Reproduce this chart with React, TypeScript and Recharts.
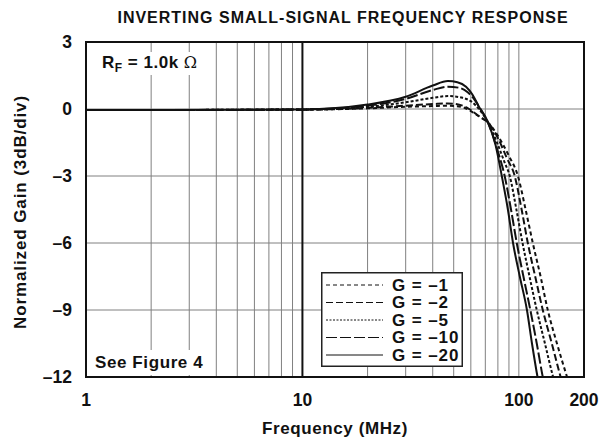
import React from 'react';
import { LineChart, Line, XAxis, YAxis, ReferenceLine, Legend, Label } from 'recharts';

// Frequency (MHz) and normalized gain (dB) for each gain setting
const freqG1 = [1, 10, 20, 30, 40, 47, 55, 60, 66, 72, 80, 90, 99, 108, 116, 126, 136, 150, 167, 180];
const gainG1 = [-0.05, -0.03, 0.03, 0.1, 0.13, 0.15, 0.08, -0.1, -0.35, -0.6, -1.2, -2.1, -3, -4.6, -6, -7.5, -9, -10.5, -12, -13];

const freqG2 = [1, 10, 20, 30, 40, 47, 55, 60, 66, 72, 80, 88, 95.7, 103, 110, 119, 129, 142, 156, 170];
const gainG2 = [-0.05, -0.03, 0.05, 0.15, 0.22, 0.25, 0.15, -0.05, -0.35, -0.6, -1.3, -2.2, -3, -4.5, -6, -7.5, -9, -10.5, -12, -13.2];

const freqG5 = [1, 10, 20, 30, 40, 47, 55, 60, 66, 72, 80, 86, 90.8, 97, 104, 112, 121, 132, 144, 155];
const gainG5 = [-0.05, -0.02, 0.1, 0.3, 0.5, 0.58, 0.5, 0.35, -0.05, -0.6, -1.6, -2.4, -3, -4.4, -6, -7.5, -9, -10.5, -12, -13];

const freqG10 = [1, 10, 20, 30, 40, 47, 53, 58, 62, 66, 72, 80, 86, 92, 97.8, 105, 113, 121, 129, 136];
const gainG10 = [-0.05, -0.02, 0.15, 0.45, 0.85, 1.0, 0.95, 0.75, 0.45, 0.05, -0.6, -1.9, -3, -4.5, -6, -7.5, -9, -10.5, -12, -13];

const freqG20 = [1, 10, 20, 30, 40, 47, 52, 57, 61, 65, 72, 78, 83.4, 89, 94, 101, 109, 115, 122, 128];
const gainG20 = [-0.05, -0.02, 0.2, 0.55, 1.05, 1.25, 1.2, 1.0, 0.65, 0.15, -0.6, -1.6, -3, -4.5, -6, -7.5, -9, -10.5, -12, -13];

const seriesNames = ['G = –1', 'G = –2', 'G = –5', 'G = –10', 'G = –20'];

const xTicks = [1, 10, 100, 200];
const yTicks = [-12, -9, -6, -3, 0, 3];
const gridFreqs = [2, 3, 4, 5, 6, 7, 8, 9, 20, 30, 40, 50, 60, 70, 80, 90, 100];
const gridGains = [-9, -6, -3, 0];

const toPoints = (f: number[], g: number[]) => f.map((x, i) => ({ f: x, g: g[i] }));

const FONT = "'Liberation Sans', Arial, Helvetica, sans-serif";
const curveDashes = ['4 3', '7 3', '3 2', '11 3', undefined];
const legendDashes = ['4 3', '7 3', '2 1.5', '11 3', undefined];

const series = [
  { name: seriesNames[0], data: toPoints(freqG1, gainG1), dash: curveDashes[0], ldash: legendDashes[0] },
  { name: seriesNames[1], data: toPoints(freqG2, gainG2), dash: curveDashes[1], ldash: legendDashes[1] },
  { name: seriesNames[2], data: toPoints(freqG5, gainG5), dash: curveDashes[2], ldash: legendDashes[2] },
  { name: seriesNames[3], data: toPoints(freqG10, gainG10), dash: curveDashes[3], ldash: legendDashes[3] },
  { name: seriesNames[4], data: toPoints(freqG20, gainG20), dash: curveDashes[4], ldash: legendDashes[4] },
];

const fmt = (v: number) => String(v).replace('-', '–');

const renderLegend = () => (
  <svg width={142} height={95} style={{ display: 'block' }}>
    <rect x={0.75} y={0.75} width={140.5} height={93.5} fill="#fff" stroke="#222" strokeWidth={1.5} />
    {series.map((s, i) => {
      const cy = 13 + i * 17.5;
      return (
        <g key={s.name}>
          <line x1={5} x2={62} y1={cy} y2={cy} stroke="#111" strokeWidth={1} strokeDasharray={s.ldash} />
          <text x={71} y={cy} dominantBaseline="central" fontFamily={FONT} fontWeight={700} fontSize={17} letterSpacing={0.9} fill="#111">
            {s.name}
          </text>
        </g>
      );
    })}
  </svg>
);

export default function App() {
  return (
    <div style={{ position: 'absolute', left: 0, top: 0, width: 600, height: 440, background: '#fff', fontFamily: FONT }}>
      <LineChart width={600} height={440} margin={{ top: 42, right: 16, left: 0, bottom: 0 }}>
        <XAxis
          dataKey="f"
          type="number"
          scale="log"
          domain={[1, 200]}
          ticks={xTicks}
          allowDataOverflow
          height={63}
          tickLine={false}
          axisLine={false}
          tickSize={6}
          tickMargin={11}
          tick={{ fontSize: 17.5, fontWeight: 700, fill: '#111', fontFamily: FONT }}
          interval={0}
        >
          <Label
            content={() => (
              <text x={335} y={428} textAnchor="middle" dominantBaseline="central" fontFamily={FONT} fontWeight={700} fontSize={17} letterSpacing={0.6} fill="#111">
                Frequency (MHz)
              </text>
            )}
          />
        </XAxis>
        <YAxis
          type="number"
          domain={[-12, 3]}
          ticks={yTicks}
          allowDataOverflow
          width={86}
          tickLine={false}
          axisLine={false}
          tickSize={6}
          tickMargin={8}
          tickFormatter={fmt}
          tick={{ fontSize: 17.5, fontWeight: 700, fill: '#111', fontFamily: FONT }}
          interval={0}
        >
          <Label
            content={() => (
              <text x={20} y={212} transform="rotate(-90 20 212)" textAnchor="middle" dominantBaseline="central" fontFamily={FONT} fontWeight={700} fontSize={17} letterSpacing={0.9} fill="#111">
                Normalized Gain (3dB/div)
              </text>
            )}
          />
        </YAxis>
        {gridFreqs.map((v) => (
          <ReferenceLine key={'vx' + v} x={v} stroke="#808080" strokeWidth={1} />
        ))}
        {gridGains.map((v) => (
          <ReferenceLine key={'hy' + v} y={v} stroke="#808080" strokeWidth={1} />
        ))}
        <ReferenceLine x={10} stroke="#111" strokeWidth={2} />
        {series.map((s) => (
          <Line
            key={s.name}
            name={s.name}
            data={s.data}
            dataKey="g"
            type="monotone"
            stroke="#111"
            strokeWidth={2}
            strokeDasharray={s.dash}
            dot={false}
            isAnimationActive={false}
          />
        ))}
        <Legend
          layout="vertical"
          align="center"
          verticalAlign="middle"
          content={renderLegend}
          wrapperStyle={{ left: 321, top: 272, width: 142, height: 95 }}
        />
      </LineChart>
      {/* title */}
      <div style={{ position: 'absolute', left: 90, width: 506, top: 8, textAlign: 'center', fontSize: 16, letterSpacing: 1, fontWeight: 700, color: '#111', lineHeight: '20px', whiteSpace: 'nowrap' }}>
        INVERTING SMALL-SIGNAL FREQUENCY RESPONSE
      </div>
      {/* R_F annotation */}
      <div style={{ position: 'absolute', left: 98, top: 52, height: 23, padding: '0 4px', background: '#fff', fontSize: 17, letterSpacing: 0.5, fontWeight: 700, color: '#111', lineHeight: '21px', whiteSpace: 'nowrap' }}>
        R<sub style={{ fontSize: 12, verticalAlign: '-4px' }}>F</sub> = 1.0k <span style={{ fontWeight: 400, fontFamily: "'DejaVu Serif', serif", fontSize: 16 }}>Ω</span>
      </div>
      {/* See Figure 4 */}
      <div style={{ position: 'absolute', left: 90, top: 350, width: 122, height: 25, background: '#fff', fontSize: 17, letterSpacing: 0.6, fontWeight: 700, color: '#111', lineHeight: '25px', whiteSpace: 'nowrap', paddingLeft: 5, boxSizing: 'border-box' }}>
        See Figure 4
      </div>
      {/* plot frame */}
      <div style={{ position: 'absolute', left: 85, top: 41, width: 500, height: 337, border: '2px solid #111', boxSizing: 'border-box', pointerEvents: 'none' }} />
    </div>
  );
}
